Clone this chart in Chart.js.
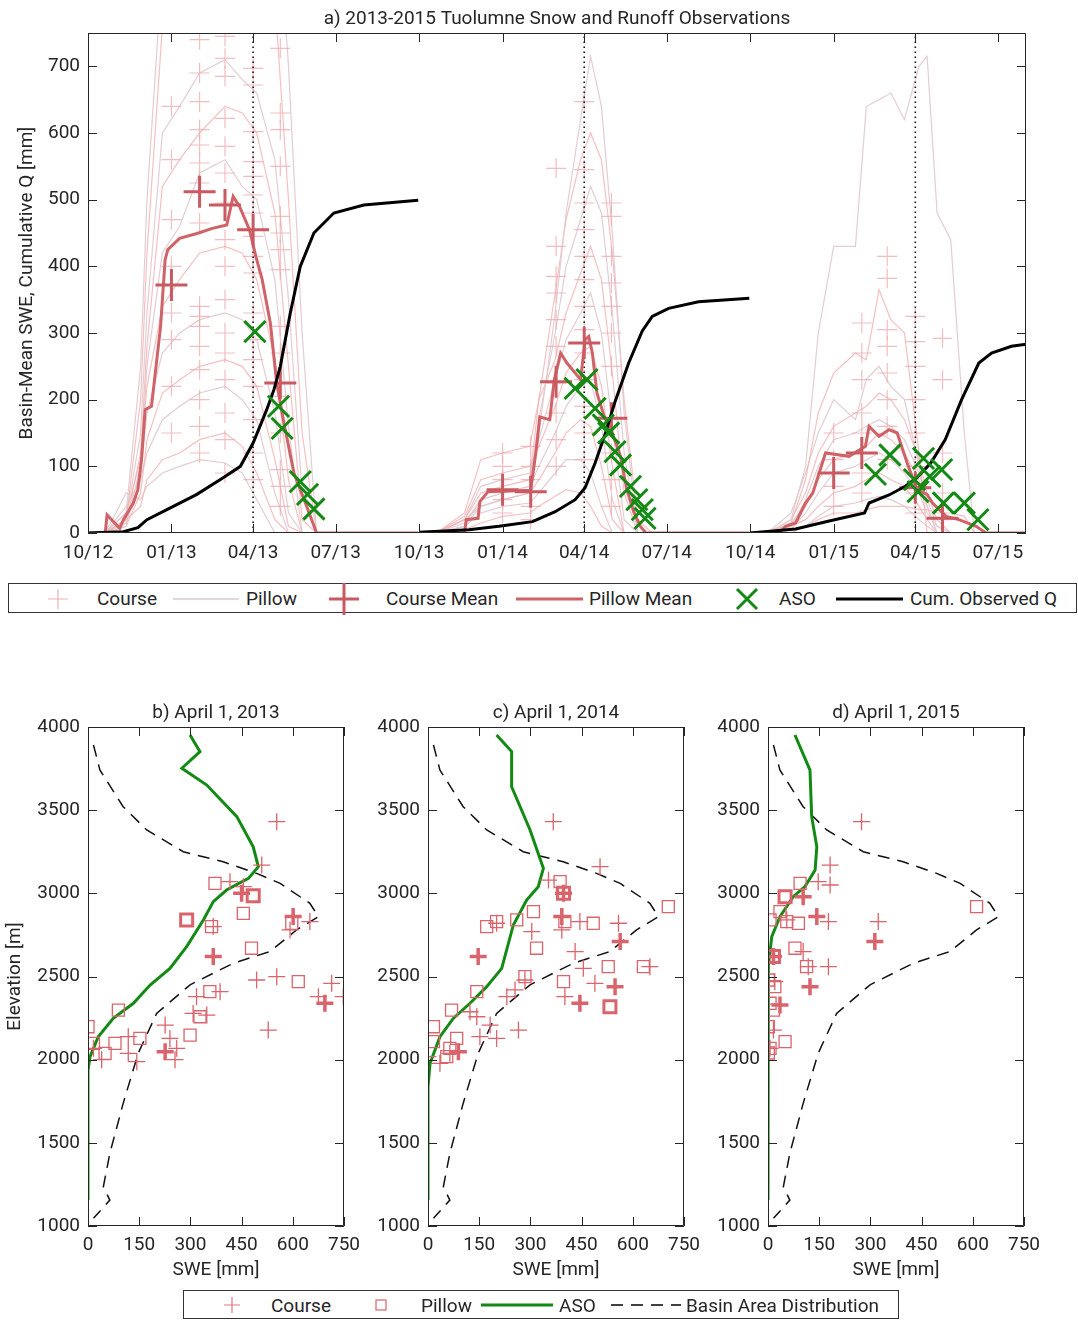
<!DOCTYPE html>
<html>
<head>
<meta charset="utf-8">
<script src="https://cdn.jsdelivr.net/npm/chart.js@4.4.1/dist/chart.umd.min.js"></script>
<style>
  body { margin: 0; background: #fff; width: 1078px; height: 1320px; position: relative; overflow: hidden;
         font-family: Roboto, "Liberation Sans", sans-serif; color: #262626; }
  canvas { position: absolute; }
  .leg { position: absolute; border: 1px solid #333; background: #fff; box-sizing: border-box; }
  .leg span { position: absolute; top: 50%; transform: translateY(-50%); font-size: 19px; white-space: nowrap; }
  .leg svg { position: absolute; left: 0; top: 0; overflow: visible; }
</style>
</head>
<body>
<canvas id="swe" width="1078" height="575" style="left:0;top:0"></canvas>
<canvas id="p2013" width="380" height="600" style="left:0;top:690px"></canvas>
<canvas id="p2014" width="380" height="600" style="left:340px;top:690px"></canvas>
<canvas id="p2015" width="380" height="600" style="left:680px;top:690px"></canvas>

<div class="leg" style="left:8px;top:583px;width:1069px;height:30px">
  <svg width="1069" height="30">
    <path d="M49 5 V25 M39 15 H59" stroke="#f0b0b5" stroke-width="1.2" fill="none"/>
    <path d="M164 15 H230" stroke="#dcc8cc" stroke-width="1.5"/>
    <path d="M335 -1 V31 M320 15 H350" stroke="#c95a62" stroke-width="3"/>
    <path d="M507 15 H574" stroke="#cf6368" stroke-width="3"/>
    <path d="M728 5 L748 25 M748 5 L728 25" stroke="#138a13" stroke-width="3"/>
    <path d="M827 15 H894" stroke="#000" stroke-width="3"/>
  </svg>
  <span style="left:88px">Course</span>
  <span style="left:237px">Pillow</span>
  <span style="left:377px">Course Mean</span>
  <span style="left:580px">Pillow Mean</span>
  <span style="left:770px">ASO</span>
  <span style="left:901px">Cum. Observed Q</span>
</div>

<div class="leg" style="left:183px;top:1290px;width:716px;height:29px">
  <svg width="716" height="29">
    <path d="M48 6 V22 M40 14 H56" stroke="#e07880" stroke-width="1.2" fill="none"/>
    <rect x="192" y="9" width="10" height="10" stroke="#d9636b" stroke-width="1.2" fill="none"/>
    <path d="M297 14 H369" stroke="#138a13" stroke-width="3"/>
    <path d="M427 14 H497" stroke="#000" stroke-width="1.5" stroke-dasharray="12 8"/>
  </svg>
  <span style="left:87px">Course</span>
  <span style="left:237px">Pillow</span>
  <span style="left:375px">ASO</span>
  <span style="left:502px">Basin Area Distribution</span>
</div>

<script>
// ---------- top panel: dates as YYYY-MM-DD, values in mm ----------
const tickDates = ['2012-10-01', '2013-01-01', '2013-04-01', '2013-07-01', '2013-10-01', '2014-01-01',
                   '2014-04-01', '2014-07-01', '2014-10-01', '2015-01-01', '2015-04-01', '2015-07-01'];
const tickLabels = ['10/12', '01/13', '04/13', '07/13', '10/13', '01/14', '04/14', '07/14', '10/14', '01/15', '04/15', '07/15'];
const sweTicks = [0, 100, 200, 300, 400, 500, 600, 700];
const aprilFirst = ['2013-04-01', '2014-04-01', '2015-04-01'];

// individual snow pillow traces, one shared date list per water year
const pillowDates2013 = ['2012-10-20', '2012-11-12', '2012-11-28', '2012-12-05', '2012-12-22', '2013-01-10', '2013-02-01', '2013-03-01',
                         '2013-03-20', '2013-04-05', '2013-04-25', '2013-05-10', '2013-05-25', '2013-06-10', '2013-06-30', '2013-09-30'];
const pillow2013 = [
  [0, 30, 250, 500, 850, 900, 950, 1000, 1050, 1080, 1000, 700, 300, 0, 0, 0],
  [0, 20, 200, 420, 760, 800, 820, 850, 900, 920, 800, 500, 150, 0, 0, 0],
  [0, 20, 150, 330, 600, 640, 690, 710, 680, 660, 560, 350, 60, 0, 0, 0],
  [0, 15, 120, 280, 520, 560, 600, 640, 630, 600, 480, 250, 20, 0, 0, 0],
  [0, 10, 100, 250, 420, 460, 540, 560, 520, 500, 380, 160, 0, 0, 0, 0],
  [0, 30, 110, 220, 340, 380, 420, 430, 420, 380, 260, 80, 0, 0, 0, 0],
  [0, 20, 90, 180, 270, 300, 320, 330, 320, 290, 180, 30, 0, 0, 0, 0],
  [0, 10, 60, 140, 210, 230, 250, 260, 250, 220, 110, 10, 0, 0, 0, 0],
  [0, 40, 80, 120, 170, 190, 210, 220, 200, 170, 60, 0, 0, 0, 0, 0],
  [0, 20, 40, 80, 110, 120, 140, 150, 130, 90, 20, 0, 0, 0, 0, 0],
  [0, 60, 50, 70, 90, 100, 110, 105, 90, 50, 0, 0, 0, 0, 0, 0]
];
const pillowDates2014 = ['2013-10-20', '2013-11-20', '2013-12-08', '2014-01-01', '2014-01-31', '2014-02-10', '2014-02-28', '2014-03-12',
                         '2014-03-28', '2014-04-08', '2014-04-20', '2014-05-02', '2014-05-15', '2014-05-30', '2014-06-15', '2014-09-30'];
const pillow2014 = [
  [0, 10, 40, 50, 60, 150, 330, 480, 620, 715, 640, 450, 180, 0, 0, 0],
  [0, 20, 60, 70, 80, 200, 360, 470, 560, 600, 560, 420, 200, 20, 0, 0],
  [0, 15, 50, 60, 70, 170, 300, 400, 470, 520, 480, 330, 120, 0, 0, 0],
  [0, 30, 110, 120, 130, 200, 260, 330, 390, 430, 380, 240, 60, 0, 0, 0],
  [0, 20, 70, 80, 90, 140, 230, 290, 330, 360, 300, 160, 20, 0, 0, 0],
  [0, 25, 80, 90, 100, 130, 190, 240, 270, 280, 220, 100, 0, 0, 0, 0],
  [0, 10, 50, 60, 70, 100, 150, 190, 220, 230, 160, 50, 0, 0, 0, 0],
  [0, 20, 40, 50, 60, 80, 120, 150, 170, 160, 100, 20, 0, 0, 0, 0],
  [0, 10, 30, 40, 45, 60, 90, 110, 110, 90, 40, 0, 0, 0, 0, 0],
  [0, 5, 15, 25, 30, 40, 55, 65, 60, 40, 10, 0, 0, 0, 0, 0]
];
const pillowDates2015 = ['2014-10-20', '2014-11-15', '2014-12-01', '2014-12-15', '2015-01-01', '2015-01-25', '2015-02-06', '2015-02-20',
                         '2015-03-05', '2015-03-20', '2015-04-05', '2015-04-14', '2015-04-25', '2015-05-10', '2015-05-25', '2015-06-05', '2015-07-31'];
const pillow2015 = [
  [0, 20, 100, 300, 430, 430, 640, 650, 660, 620, 700, 715, 480, 440, 150, 0, 0],
  [0, 15, 80, 180, 240, 270, 260, 365, 320, 300, 120, 0, 0, 0, 0, 0, 0],
  [0, 30, 90, 150, 200, 170, 230, 250, 220, 200, 100, 40, 0, 0, 0, 0, 0],
  [0, 20, 60, 120, 160, 180, 190, 210, 200, 170, 110, 60, 20, 0, 0, 0, 0],
  [0, 10, 50, 100, 140, 150, 160, 170, 160, 140, 90, 50, 10, 0, 0, 0, 0],
  [0, 15, 40, 80, 110, 120, 130, 150, 140, 120, 80, 40, 0, 0, 0, 0, 0],
  [0, 5, 30, 60, 90, 100, 110, 120, 110, 90, 60, 30, 10, 0, 0, 0, 0],
  [0, 10, 20, 40, 60, 70, 80, 90, 80, 70, 40, 20, 0, 0, 0, 0, 0],
  [0, 5, 10, 25, 40, 45, 50, 55, 50, 40, 20, 10, 0, 0, 0, 0, 0],
  [0, 0, 10, 20, 30, 30, 35, 40, 40, 40, 35, 35, 30, 30, 25, 0, 0]
];

// snow course surveys (date -> SWE of each course)
const courseObs2013 = {
  '2013-01-01': [150, 220, 290, 330, 400, 470, 560, 640],
  '2013-02-01': [740, 690, 647, 605, 582, 555, 525, 465, 340, 325, 310, 280, 245, 200, 160, 120],
  '2013-03-01': [745, 712, 685, 622, 580, 540, 495, 440, 400, 350, 300, 270, 230, 180, 140, 90],
  '2013-04-01': [697, 672, 602, 557, 535, 507, 480, 445, 415, 390, 330, 290, 260, 220, 170, 120, 80],
  '2013-05-01': [727, 630, 605, 550, 475, 450, 425, 395, 310, 270, 205, 150, 95, 70, 40]
};
const courseObs2014 = {
  '2014-01-01': [30, 50, 80, 100, 120],
  '2014-02-01': [20, 40, 80, 100, 130],
  '2014-03-01': [547, 430, 385, 360, 320, 280, 225, 180, 140, 100],
  '2014-04-01': [647, 545, 495, 455, 415, 380, 340, 305, 270, 230, 190, 150, 110],
  '2014-05-01': [495, 475, 415, 375, 340, 300, 250, 172, 120, 80, 40]
};
const courseObs2015 = {
  '2015-01-01': [40, 70, 110, 150],
  '2015-02-01': [315, 270, 230, 180, 150, 90, 60],
  '2015-03-01': [415, 382, 305, 280, 240, 200, 160, 110],
  '2015-04-01': [325, 287, 250, 200, 150, 100, 60, 30],
  '2015-05-01': [292, 230, 120, 60, 20]
};

const courseMean = [['2013-01-01', 372], ['2013-02-01', 512], ['2013-03-01', 492], ['2013-04-01', 455], ['2013-05-01', 225],
                    ['2014-01-01', 65], ['2014-02-01', 62], ['2014-03-01', 227], ['2014-04-01', 285], ['2014-05-01', 172],
                    ['2015-01-01', 90], ['2015-02-01', 120], ['2015-04-01', 68], ['2015-05-01', 22]];

const pillowMean2013 = [['2012-10-01', 0], ['2012-10-20', 0], ['2012-10-22', 27], ['2012-11-05', 7], ['2012-11-09', 20], ['2012-11-20', 45],
  ['2012-11-25', 65], ['2012-11-29', 110], ['2012-12-03', 185], ['2012-12-10', 190], ['2012-12-20', 310], ['2012-12-25', 410],
  ['2012-12-28', 425], ['2013-01-10', 442], ['2013-01-31', 450], ['2013-02-15', 457], ['2013-03-03', 462], ['2013-03-10', 505],
  ['2013-03-17', 490], ['2013-03-28', 455], ['2013-04-04', 415], ['2013-04-11', 380], ['2013-04-20', 315], ['2013-04-27', 225],
  ['2013-05-05', 165], ['2013-05-16', 90], ['2013-05-30', 40], ['2013-06-10', 0], ['2013-09-30', 0]];
const pillowMean2014 = [['2013-10-01', 0], ['2013-11-20', 0], ['2013-11-22', 20], ['2013-12-05', 22], ['2013-12-07', 47], ['2013-12-16', 62],
  ['2014-02-01', 64], ['2014-02-07', 124], ['2014-02-11', 174], ['2014-02-22', 170], ['2014-02-27', 230], ['2014-03-06', 270],
  ['2014-03-13', 255], ['2014-03-28', 230], ['2014-04-02', 290], ['2014-04-06', 295], ['2014-04-10', 270], ['2014-04-15', 210],
  ['2014-04-23', 175], ['2014-05-02', 150], ['2014-05-11', 115], ['2014-05-18', 65], ['2014-05-26', 30], ['2014-06-02', 10],
  ['2014-06-08', 0], ['2014-09-30', 0]];
const pillowMean2015 = [['2014-10-01', 0], ['2014-11-02', 0], ['2014-11-09', 10], ['2014-11-20', 15], ['2014-12-01', 45], ['2014-12-09', 60],
  ['2014-12-16', 90], ['2014-12-23', 120], ['2015-01-18', 115], ['2015-02-05', 130], ['2015-02-09', 160], ['2015-02-20', 145],
  ['2015-03-03', 155], ['2015-03-12', 150], ['2015-03-23', 105], ['2015-04-03', 65], ['2015-04-14', 58], ['2015-04-20', 45],
  ['2015-05-05', 25], ['2015-05-19', 20], ['2015-06-07', 10], ['2015-06-18', 0], ['2015-08-01', 0]];

const aso = [['2013-04-03', 302], ['2013-04-29', 190], ['2013-05-03', 157], ['2013-05-23', 77], ['2013-05-31', 58], ['2013-06-07', 36],
  ['2014-03-22', 217], ['2014-04-04', 230], ['2014-04-13', 187], ['2014-04-22', 162], ['2014-04-28', 150], ['2014-05-05', 122],
  ['2014-05-11', 102], ['2014-05-22', 70], ['2014-05-29', 50], ['2014-06-04', 35], ['2014-06-07', 22],
  ['2015-02-16', 88], ['2015-03-04', 117], ['2015-03-31', 80], ['2015-04-04', 62], ['2015-04-10', 112], ['2015-04-17', 85],
  ['2015-04-30', 95], ['2015-05-02', 45], ['2015-05-25', 45], ['2015-06-09', 20]];

const cumQ2013 = [['2012-10-01', 0], ['2012-11-09', 2], ['2012-11-25', 8], ['2012-12-05', 20], ['2012-12-27', 35], ['2013-01-29', 58],
  ['2013-02-27', 83], ['2013-03-18', 100], ['2013-04-01', 135], ['2013-04-16', 185], ['2013-04-24', 215], ['2013-05-01', 250],
  ['2013-05-12', 330], ['2013-05-23', 400], ['2013-06-07', 450], ['2013-06-29', 480], ['2013-08-01', 492], ['2013-09-30', 499]];
const cumQ2014 = [['2013-10-01', 1], ['2013-11-25', 5], ['2013-12-28', 10], ['2014-02-03', 17], ['2014-02-28', 32], ['2014-03-22', 50],
  ['2014-04-02', 68], ['2014-04-13', 105], ['2014-04-24', 148], ['2014-05-05', 197], ['2014-05-20', 255], ['2014-06-04', 303],
  ['2014-06-15', 325], ['2014-07-03', 337], ['2014-08-05', 347], ['2014-09-30', 352]];
const cumQ2015 = [['2014-10-01', 0], ['2014-11-20', 6], ['2014-12-27', 18], ['2015-02-04', 30], ['2015-02-09', 45], ['2015-03-03', 57],
  ['2015-03-21', 70], ['2015-04-02', 82], ['2015-04-18', 105], ['2015-05-04', 140], ['2015-05-22', 200], ['2015-06-10', 255],
  ['2015-06-24', 270], ['2015-07-16', 280], ['2015-08-01', 283]];

// ---------- bottom panels: [SWE mm, elevation m] ----------
const sweTicksB = [0, 150, 300, 450, 600, 750];
const elevTicks = [1000, 1500, 2000, 2500, 3000, 3500, 4000];
const basinArea = [[16, 3892], [35, 3741], [103, 3521], [172, 3381], [279, 3250], [396, 3190], [494, 3120], [563, 3060], [650, 2940],
  [675, 2860], [611, 2780], [533, 2650], [426, 2580], [299, 2450], [201, 2278], [147, 2038], [103, 1737], [64, 1437], [45, 1236],
  [64, 1156], [16, 1046]];

const aso2013 = [[299, 3952], [328, 3852], [275, 3752], [348, 3651], [436, 3461], [484, 3280], [499, 3160], [470, 3090], [406, 3020],
  [367, 2950], [338, 2840], [289, 2680], [240, 2549], [182, 2449], [133, 2339], [74, 2248], [30, 2138], [6, 2018], [0, 1938], [0, 1156]];
const aso2014 = [[201, 3952], [245, 3852], [245, 3641], [299, 3381], [338, 3150], [323, 3040], [289, 2960], [250, 2810], [216, 2549],
  [172, 2439], [123, 2339], [74, 2248], [35, 2138], [6, 1978], [0, 1838], [0, 1156]];
const aso2015 = [[79, 3952], [123, 3741], [128, 3461], [143, 3280], [138, 3140], [108, 3040], [74, 2980], [35, 2860], [11, 2740],
  [1, 2559], [0, 2000], [0, 1156]];

const course2013 = [[553, 3431], [509, 3170], [416, 3070], [455, 3040], [367, 2800], [650, 2830], [592, 2780], [494, 2479], [553, 2499],
  [714, 2459], [675, 2379], [748, 2379], [387, 2409], [318, 2379], [308, 2278], [348, 2268], [528, 2178], [226, 2208], [240, 2128],
  [260, 2068], [255, 2000], [118, 2138], [118, 2038], [143, 1988], [40, 2000], [16, 2068]];
const courseRepeat2013 = [[367, 2620], [601, 2860], [694, 2339], [226, 2048], [450, 3000]];
const pillow2013B = [[372, 3060], [455, 2880], [362, 2800], [479, 2670], [616, 2469], [357, 2409], [597, 2820], [89, 2298], [0, 2198],
  [328, 2258], [299, 2148], [152, 2128], [79, 2098], [50, 2038], [16, 2098]];
const pillowRepeat2013 = [[484, 2985], [289, 2840]];

const course2014 = [[367, 3431], [504, 3160], [353, 3080], [445, 2830], [558, 2820], [392, 2780], [304, 2770], [201, 2820], [431, 2650],
  [455, 2549], [650, 2559], [489, 2459], [284, 2479], [401, 2379], [231, 2379], [255, 2419], [123, 2288], [143, 2258], [182, 2208],
  [265, 2178], [152, 2138], [201, 2128], [35, 1978], [0, 2018], [64, 2038]];
const courseRepeat2014 = [[392, 2860], [563, 2710], [147, 2620], [548, 2439], [445, 2339], [89, 2048], [397, 3000]];
const pillow2014B = [[387, 3070], [309, 2890], [260, 2840], [201, 2830], [172, 2800], [401, 2830], [484, 2820], [704, 2920], [318, 2670],
  [528, 2559], [631, 2559], [284, 2499], [397, 2469], [143, 2409], [69, 2298], [16, 2198], [16, 2108], [84, 2128], [64, 2068], [55, 2018]];
const pillowRepeat2014 = [[397, 3000], [533, 2318]];

const course2015 = [[274, 3431], [182, 3170], [147, 3070], [182, 3050], [177, 2830], [323, 2830], [103, 2650], [177, 2559], [118, 2559],
  [20, 2469], [16, 2178], [6, 2068], [55, 2840]];
const courseRepeat2015 = [[103, 2980], [143, 2860], [313, 2710], [123, 2439], [16, 2620], [35, 2329]];
const pillow2015B = [[94, 3060], [35, 2890], [6, 2840], [55, 2830], [89, 2820], [611, 2920], [79, 2670], [113, 2559], [1, 2479],
  [20, 2439], [6, 2339], [16, 2298], [1, 2198], [50, 2108], [6, 2068], [1, 2040]];
const pillowRepeat2015 = [[50, 2980], [16, 2620]];

// ---------- helpers ----------
const origin = Date.UTC(2012, 9, 1);
const day = s => { const [y, m, d] = s.split('-').map(Number); return (Date.UTC(y, m - 1, d) - origin) / 864e5; };
const datePts = pairs => pairs.map(([d, v]) => ({x: day(d), y: v}));
const xyPts = pairs => pairs.map(([x, y]) => ({x, y}));

Chart.defaults.font.family = 'Roboto, "Liberation Sans", sans-serif';
Chart.defaults.font.size = 19;
Chart.defaults.color = '#262626';
Chart.defaults.animation = false;
Chart.defaults.events = [];
Chart.defaults.plugins.legend.display = false;
Chart.defaults.plugins.tooltip.enabled = false;

// matlab-like box with inward ticks on all four sides, plus the panel title
const frame = {
  id: 'frame',
  afterDatasetsDraw(chart, args, opts) {
    const {ctx, chartArea: a, scales} = chart;
    ctx.save();
    ctx.strokeStyle = '#262626';
    ctx.lineWidth = 1;
    ctx.beginPath();
    ctx.rect(a.left + 0.5, a.top + 0.5, a.right - a.left - 1, a.bottom - a.top - 1);
    scales.x.ticks.forEach(t => {
      const p = Math.round(scales.x.getPixelForValue(t.value)) + 0.5;
      ctx.moveTo(p, a.bottom); ctx.lineTo(p, a.bottom - 9);
      ctx.moveTo(p, a.top); ctx.lineTo(p, a.top + 9);
    });
    scales.y.ticks.forEach(t => {
      const p = Math.round(scales.y.getPixelForValue(t.value)) + 0.5;
      ctx.moveTo(a.left, p); ctx.lineTo(a.left + 9, p);
      ctx.moveTo(a.right, p); ctx.lineTo(a.right - 9, p);
    });
    ctx.stroke();
    if (opts.title) {
      ctx.fillStyle = '#262626';
      ctx.font = '19px Roboto, "Liberation Sans", sans-serif';
      ctx.textAlign = 'center';
      ctx.textBaseline = 'middle';
      ctx.fillText(opts.title, (a.left + a.right) / 2, a.top - 14);
    }
    ctx.restore();
  }
};

const noGrid = {display: false, drawTicks: false};

// ---------- top chart ----------
const topSets = [];
[[pillowDates2013, pillow2013], [pillowDates2014, pillow2014], [pillowDates2015, pillow2015]].forEach(([dates, traces]) => {
  traces.forEach((vals, i) => topSets.push({
    data: vals.map((v, k) => ({x: day(dates[k]), y: v})),
    showLine: true, pointRadius: 0, borderWidth: 1.2,
    borderColor: i % 2 ? 'rgba(242,176,178,0.8)' : 'rgba(224,202,208,0.95)',
    order: 7
  }));
});
[courseObs2013, courseObs2014, courseObs2015].forEach(obs => {
  const data = [];
  Object.entries(obs).forEach(([d, vals]) => vals.forEach(v => data.push({x: day(d), y: v})));
  topSets.push({data, pointStyle: 'cross', pointRadius: 10, borderWidth: 1.2, borderColor: 'rgba(238,168,174,0.75)', order: 6});
});
aprilFirst.forEach(d => topSets.push({
  data: [{x: day(d), y: 0}, {x: day(d), y: 750}],
  showLine: true, pointRadius: 0, borderWidth: 1.6, borderColor: '#111', borderDash: [1.6, 3.4], order: 5
}));
[pillowMean2013, pillowMean2014, pillowMean2015].forEach(pm => topSets.push({
  data: datePts(pm), showLine: true, pointRadius: 0, borderWidth: 3, borderColor: '#cf6368', order: 4
}));
topSets.push({data: datePts(courseMean), pointStyle: 'cross', pointRadius: 16, borderWidth: 3, borderColor: '#c95a62', order: 3});
[cumQ2013, cumQ2014, cumQ2015].forEach(q => topSets.push({
  data: datePts(q), showLine: true, pointRadius: 0, borderWidth: 3, borderColor: '#000', order: 2
}));
topSets.push({data: datePts(aso), pointStyle: 'crossRot', pointRadius: 15, borderWidth: 3, borderColor: '#138a13', order: 1});

new Chart(document.getElementById('swe'), {
  type: 'scatter',
  data: {datasets: topSets},
  options: {
    responsive: false,
    layout: {padding: {left: 0, top: 33, right: 52, bottom: 0}},
    plugins: {frame: {title: 'a) 2013-2015 Tuolumne Snow and Runoff Observations'}},
    scales: {
      x: {
        type: 'linear', min: day('2012-10-01'), max: day('2015-08-01'),
        afterBuildTicks: ax => { ax.ticks = tickDates.map(d => ({value: day(d)})); },
        ticks: {callback: (v, i) => tickLabels[i], padding: 9, maxRotation: 0, autoSkip: false},
        grid: noGrid, border: {display: false},
        afterFit: s => { s.height = 42; }
      },
      y: {
        min: 0, max: 750,
        afterBuildTicks: ax => { ax.ticks = sweTicks.map(v => ({value: v})); },
        ticks: {padding: 8},
        grid: noGrid, border: {display: false},
        title: {display: true, text: 'Basin-Mean SWE, Cumulative Q [mm]', padding: {top: 16, bottom: 4}},
        afterFit: s => { s.width = 88; }
      }
    }
  },
  plugins: [frame]
});

// ---------- bottom charts ----------
const panels = [
  {id: 'p2013', title: 'b) April 1, 2013', aso: aso2013, course: course2013, courseRep: courseRepeat2013, pillow: pillow2013B, pillowRep: pillowRepeat2013, ytitle: true},
  {id: 'p2014', title: 'c) April 1, 2014', aso: aso2014, course: course2014, courseRep: courseRepeat2014, pillow: pillow2014B, pillowRep: pillowRepeat2014, ytitle: false},
  {id: 'p2015', title: 'd) April 1, 2015', aso: aso2015, course: course2015, courseRep: courseRepeat2015, pillow: pillow2015B, pillowRep: pillowRepeat2015, ytitle: false}
];
const markColor = '#d9646c';

panels.forEach(p => {
  new Chart(document.getElementById(p.id), {
    type: 'scatter',
    data: {datasets: [
      {data: xyPts(p.course), pointStyle: 'cross', pointRadius: 8.5, borderWidth: 1.3, borderColor: markColor, order: 1},
      {data: xyPts(p.courseRep), pointStyle: 'cross', pointRadius: 8.5, borderWidth: 3.5, borderColor: markColor, order: 1},
      {data: xyPts(p.pillow), pointStyle: 'rect', pointRadius: 8.5, borderWidth: 1.3, borderColor: markColor, backgroundColor: 'rgba(0,0,0,0)', order: 2},
      {data: xyPts(p.pillowRep), pointStyle: 'rect', pointRadius: 8.5, borderWidth: 3, borderColor: markColor, backgroundColor: 'rgba(0,0,0,0)', order: 2},
      {data: xyPts(p.aso), showLine: true, pointRadius: 0, borderWidth: 3, borderColor: '#138a13', order: 3},
      {data: xyPts(basinArea), showLine: true, pointRadius: 0, borderWidth: 1.5, borderColor: '#111', borderDash: [12, 8], order: 4}
    ]},
    options: {
      responsive: false,
      layout: {padding: {left: 0, top: 37, right: 36, bottom: 0}},
      plugins: {frame: {title: p.title}},
      scales: {
        x: {
          type: 'linear', min: 0, max: 750,
          afterBuildTicks: ax => { ax.ticks = sweTicksB.map(v => ({value: v})); },
          ticks: {padding: 8, maxRotation: 0, autoSkip: false, callback: v => String(v)},
          grid: noGrid, border: {display: false},
          title: {display: true, text: 'SWE [mm]', padding: {top: 0, bottom: 8}},
          afterFit: s => { s.height = 64; }
        },
        y: {
          min: 1000, max: 4000,
          afterBuildTicks: ax => { ax.ticks = elevTicks.map(v => ({value: v})); },
          ticks: {padding: 8, callback: v => String(v)},
          grid: noGrid, border: {display: false},
          title: {display: p.ytitle, text: 'Elevation [m]', padding: {top: 4, bottom: 4}},
          afterFit: s => { s.width = 88; }
        }
      }
    },
    plugins: [frame]
  });
});
</script>
</body>
</html>
